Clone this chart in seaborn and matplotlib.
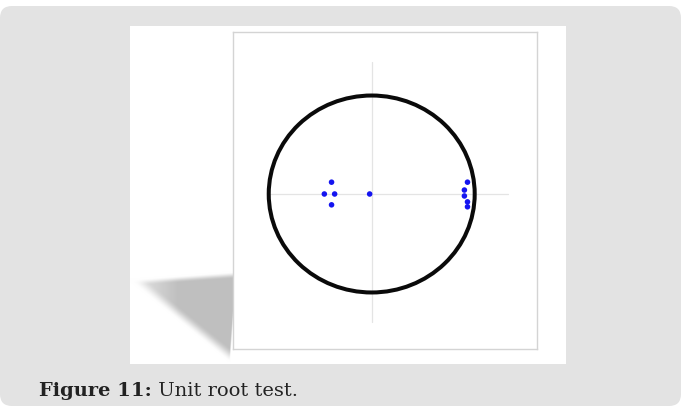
import numpy as np
import pandas as pd
import seaborn as sns
import matplotlib
matplotlib.use("Agg")
import matplotlib.pyplot as plt
from matplotlib.patches import FancyBboxPatch, Rectangle, Circle

# ---- data: inverse roots (real, imaginary) ----
root_real = [-0.39, -0.46, -0.36, -0.39, -0.02, 0.93, 0.90, 0.90, 0.93, 0.93]
root_imag = [0.12, 0.00, 0.00, -0.11, 0.00, 0.12, 0.04, -0.02, -0.08, -0.13]
caption_bold = "Figure 11:"
caption_text = " Unit root test."

df = pd.DataFrame({"real": root_real, "imag": root_imag})

sns.set_theme(style="white")
W, H = 682, 410
fig = plt.figure(figsize=(W / 100, H / 100), dpi=100)
fig.patch.set_facecolor("white")

# background decoration axes in pixel coordinates
bg = fig.add_axes([0, 0, 1, 1])
bg.set_xlim(0, W)
bg.set_ylim(H, 0)
bg.axis("off")

card = FancyBboxPatch((0, 7), 681, 400, boxstyle="round,pad=0,rounding_size=12",
                      facecolor="#e3e3e3", edgecolor="none")
bg.add_patch(card)
bg.add_patch(Rectangle((130, 27), 436, 338, facecolor="white", edgecolor="none"))

# soft drop shadow (blurred triangle) bottom-left of the frame
x0, x1, y0, y1 = 130, 240, 262, 365
xs = np.arange(x0, x1) + 0.5
ys = np.arange(y0, y1) + 0.5
X, Y = np.meshgrid(xs, ys)
A, B, C = np.array([140.0, 283.0]), np.array([236.0, 276.0]), np.array([230.0, 356.0])


def edge_soft(P, Q, inside, width):
    d = np.array([Q[1] - P[1], -(Q[0] - P[0])])
    d = d / np.hypot(*d)
    if np.dot(inside - P, d) < 0:
        d = -d
    dist = (X - P[0]) * d[0] + (Y - P[1]) * d[1]
    t = np.clip(dist / width + 0.5, 0, 1)
    return t * t * (3 - 2 * t)


m = edge_soft(A, B, C, 7) * edge_soft(C, A, B, 12) * edge_soft(B, C, A, 2)
fade = np.clip((X - 138) / 40, 0, 1)
val = 1 - 0.25 * m * (0.45 + 0.55 * fade)
rgb = np.dstack([val, val, val])
bg.imshow(rgb, extent=(x0, x1, y1, y0), aspect="auto", interpolation="bilinear", zorder=2)
bg.set_xlim(0, W)
bg.set_ylim(H, 0)

# chart axes
ax = fig.add_axes([233 / W, 1 - 350 / H, 304 / W, 317 / H])
ax.set_zorder(3)
ax.set_facecolor("white")
ax.set_xlim(-1.347, 1.605)
ax.set_ylim(-1.574, 1.645)
for s in ax.spines.values():
    s.set_color("#d4d4d4")
    s.set_linewidth(1.0)
ax.set_xticks([])
ax.set_yticks([])

# light reference axes
ax.plot([-0.99, 1.32], [0, 0], color="#e4e4e4", lw=0.9, zorder=1)
ax.plot([0, 0], [-1.30, 1.34], color="#e4e4e4", lw=0.9, zorder=1)

ax.add_patch(Circle((0, 0), 1.0, fill=False, edgecolor="#0a0a0a", lw=2.9, zorder=2))

sns.scatterplot(data=df, x="real", y="imag", ax=ax, color="#1414f0", s=16,
                edgecolor="none", zorder=3, legend=False)
ax.set_xlabel("")
ax.set_ylabel("")

# caption
fam = ["DejaVu Serif"]
t1 = fig.text(39 / W, 1 - 396 / H, caption_bold, fontsize=14, fontweight="bold",
              family=fam, color="#222222", va="baseline", ha="left")
fig.canvas.draw()
bb = t1.get_window_extent()
fig.text(bb.x1 / W, 1 - 396 / H, caption_text, fontsize=14, family=fam,
         color="#222222", va="baseline", ha="left")

fig.savefig("out.png", dpi=100)
